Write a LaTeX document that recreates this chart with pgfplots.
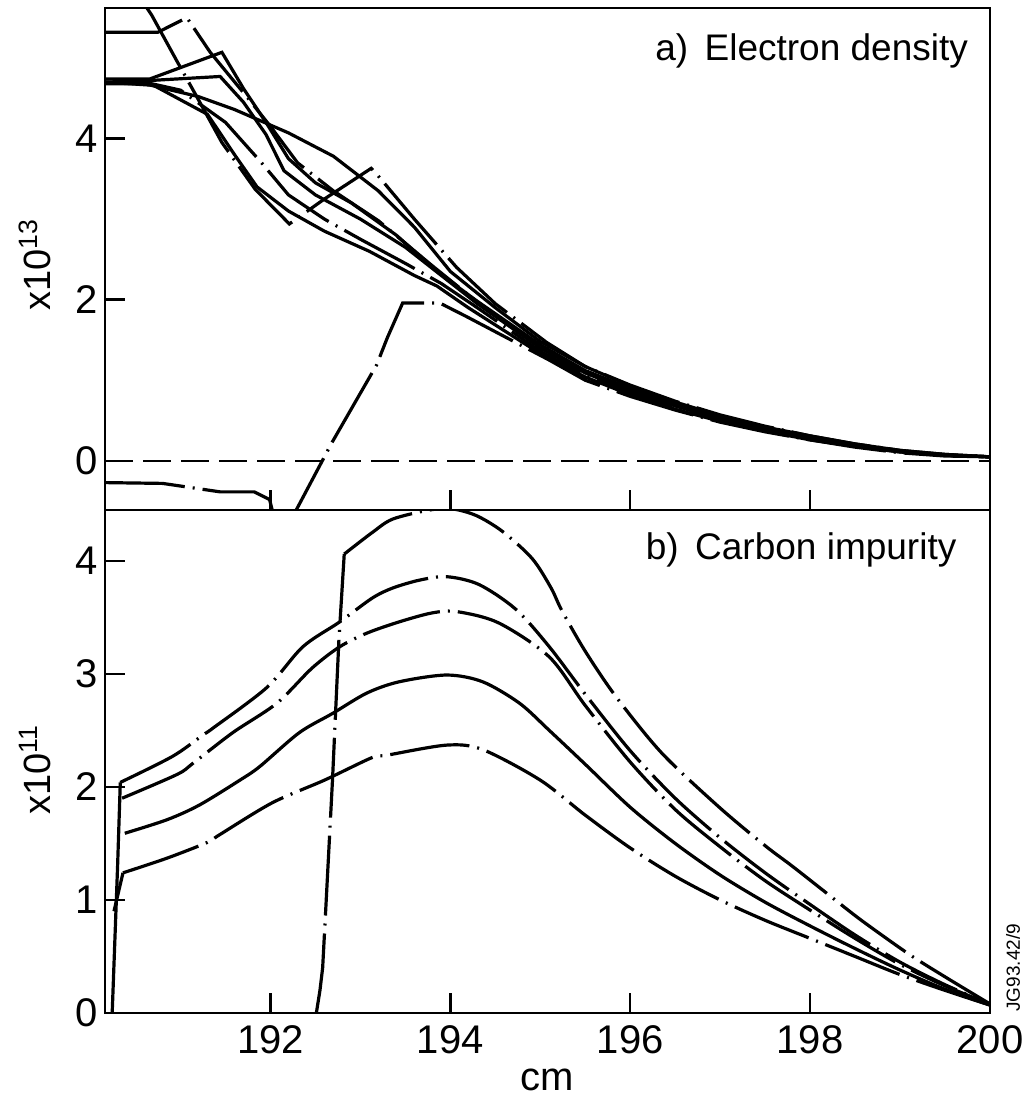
\documentclass[border=0pt]{standalone}
\usepackage{pgfplots}
\pgfplotsset{compat=1.18}
\usepackage{fontspec}
\setmainfont{Liberation Sans}
\begin{document}
\begin{tikzpicture}
\path[use as bounding box] (-52.5pt,-45.5pt) rectangle (461.5pt,506.5pt);
\pgfplotsset{
  panel/.style={
    scale only axis, width=442.5pt,
    xmin=190.16, xmax=200,
    axis line style={line width=1.3pt},
    tick align=inside, xtick pos=bottom, ytick pos=left,
    major tick length=10pt,
    every tick/.style={black, line width=1.2pt},
    xtick={192,194,196,198,200},
    ticklabel style={font=\fontsize{20}{24}\selectfont},
    /pgf/number format/assume math mode=true,
    clip mode=individual,
  },
  dd/.style={black, line width=1.6pt, dash pattern=on 40pt off 4pt on 1pt off 4pt},
  sl/.style={black, line width=1.6pt},
}
% ---------------- bottom panel ----------------
\begin{axis}[panel, at={(0pt,0pt)}, anchor=south west, height=251.5pt,
  ymin=0, ymax=4.45, ytick={0,1,2,3,4},
  xticklabel style={yshift=-3pt},
]
% vertical starts
\addplot[sl] coordinates {(190.24,0) (190.30,1.3) (190.33,2.04)};
\addplot[sl] coordinates {(190.26,0.9) (190.36,1.24)};
% B1
\addplot[dd] coordinates {(192.51,0) (192.55,0.2) (192.58,0.4) (192.61,0.85) (192.69,2.07) (192.76,3.29) (192.82,4.06)};
\addplot[dd, smooth, tension=0.5] coordinates {(192.82,4.06) (193.13,4.25) (193.36,4.37) (193.77,4.45) (194.02,4.46) (194.29,4.40) (194.58,4.26) (194.91,4.02) (195.12,3.76) (195.24,3.56) (195.5,3.2) (195.84,2.8) (196.35,2.3) (196.99,1.82) (197.5,1.48) (197.8,1.3) (198.2,1.05) (198.57,0.82) (199.1,0.52) (199.5,0.32) (200,0.08)};
% B2
\addplot[dd, smooth, tension=0.5] coordinates {(190.33,2.04) (190.91,2.27) (191.25,2.46) (191.36,2.52) (191.96,2.88) (192.36,3.24) (192.77,3.46) (193.13,3.67) (193.36,3.76) (193.66,3.83) (193.96,3.86) (194.32,3.79) (194.73,3.57) (195.1,3.24) (195.5,2.82) (196,2.32) (196.5,1.9) (197,1.55) (197.5,1.24) (198,0.96) (198.5,0.69) (199,0.45) (199.5,0.25) (200,0.08)};
% B3
\addplot[dd, smooth, tension=0.5] coordinates {(190.35,1.90) (190.96,2.11) (191.14,2.21) (191.58,2.48) (192.07,2.74) (192.46,3.05) (192.77,3.24) (193.07,3.36) (193.43,3.46) (193.8,3.54) (194.08,3.55) (194.54,3.45) (195.1,3.15) (195.5,2.72) (196,2.22) (196.5,1.8) (197,1.47) (197.5,1.17) (198,0.91) (198.5,0.66) (199,0.43) (199.5,0.24) (200,0.08)};
% B4
\addplot[sl, smooth, tension=0.5] coordinates {(190.38,1.59) (190.85,1.71) (191.21,1.84) (191.66,2.06) (191.88,2.18) (192.32,2.48) (192.69,2.65) (193.07,2.83) (193.43,2.93) (193.96,2.99) (194.36,2.93) (194.77,2.74) (195.1,2.5) (195.5,2.2) (196,1.82) (196.5,1.5) (197,1.22) (197.5,0.98) (198,0.77) (198.5,0.57) (199,0.38) (199.5,0.21) (200,0.07)};
% B5
\addplot[dd, smooth, tension=0.5] coordinates {(190.36,1.24) (190.85,1.37) (191.3,1.51) (191.44,1.58) (192.02,1.86) (192.6,2.06) (193.13,2.26) (193.29,2.28) (193.96,2.37) (194.36,2.33) (195.0,2.06) (195.5,1.75) (196,1.46) (196.5,1.21) (197,1.0) (197.5,0.82) (198,0.66) (198.5,0.5) (199,0.34) (199.5,0.2) (200,0.07)};
\node[anchor=east, font=\fontsize{18.5}{22}\selectfont] at (axis description cs:0.97,0.92) {b)\, Carbon impurity};
\node[rotate=90, anchor=center, font=\fontsize{9.5}{11}\selectfont] at (axis description cs:1.026,0.09) {JG93.42/9};
\node[anchor=center, font=\fontsize{20}{24}\selectfont] at (axis description cs:0.5,-0.133) {cm};
\node[rotate=90, anchor=center, font=\fontsize{19}{22}\selectfont] at (axis description cs:-0.079,0.483) {x10\textsuperscript{11}};
\end{axis}
% ---------------- top panel ----------------
\begin{axis}[panel, at={(0pt,251.5pt)}, anchor=south west, height=251pt,
  ymin=-0.61, ymax=5.62, ytick={0,2,4}, xticklabels={},
]
\addplot[black, line width=1pt, dash pattern=on 14pt off 5pt] coordinates {(190.16,0) (200,0)};
% T1 dash-dot from 5.32
\addplot[dd] coordinates {(190.16,5.32) (190.75,5.32) (191.07,5.5) (191.33,5.07) (191.75,4.5) (192.0,4.15) (192.3,3.7) (192.7,3.35) (193.2,2.98) (193.8,2.42) (194.3,1.97) (195.0,1.42) (195.5,1.1) (196.0,0.88) (196.5,0.69) (197.0,0.53) (197.5,0.4) (198.0,0.29) (198.5,0.2) (199.0,0.12) (199.5,0.07) (200,0.05)};
% T2 solid peak 5.07
\addplot[sl] coordinates {(190.16,4.74) (190.66,4.74) (191.46,5.07) (191.7,4.62) (191.95,4.2) (192.2,3.75) (192.5,3.45) (192.9,3.2) (193.4,2.8) (193.85,2.35) (194.3,1.98) (195.0,1.44) (195.5,1.12) (196,0.9) (196.5,0.7) (197,0.54) (197.5,0.41) (198,0.3) (198.5,0.2) (199,0.12) (199.5,0.07) (200,0.05)};
% T3 solid
\addplot[sl] coordinates {(190.16,4.70) (190.66,4.72) (191.44,4.77) (191.7,4.45) (191.95,4.05) (192.15,3.6) (192.5,3.3) (193.0,3.0) (193.5,2.65) (193.9,2.3) (194.3,1.95) (195.0,1.40) (195.5,1.09) (196,0.87) (196.5,0.68) (197,0.52) (197.5,0.39) (198,0.28) (198.5,0.19) (199,0.12) (199.5,0.07) (200,0.05)};
% T4 smooth upper
\addplot[sl] coordinates {(190.16,4.68) (190.6,4.68) (191.2,4.52) (191.6,4.36) (192.2,4.07) (192.7,3.78) (193.2,3.35) (193.6,2.9) (194.0,2.35) (194.5,1.9) (195,1.48) (195.5,1.17) (196,0.93) (196.5,0.73) (197,0.56) (197.5,0.42) (198,0.31) (198.5,0.21) (199,0.13) (199.5,0.08) (200,0.05)};
% T5 dash-dot from top with V and bump
\addplot[dd] coordinates {(190.55,5.75) (190.68,5.53) (190.97,4.94) (191.18,4.52) (191.46,3.95) (191.62,3.7) (191.83,3.37) (192.21,2.94) (192.6,3.25) (193.12,3.63) (193.21,3.52) (193.6,3.0) (194.07,2.40) (194.5,1.95) (195.07,1.47) (195.5,1.17) (196,0.94) (196.5,0.74) (197,0.57) (197.5,0.43) (198,0.31) (198.5,0.21) (199,0.13) (199.5,0.08) (200,0.05)};
% T6 dash-dot lower
\addplot[dd] coordinates {(190.16,4.70) (190.6,4.70) (191.0,4.6) (191.5,4.2) (191.9,3.7) (192.2,3.3) (192.6,3.0) (193.0,2.75) (193.5,2.45) (193.9,2.2) (194.3,1.9) (195,1.36) (195.5,1.06) (196,0.84) (196.5,0.66) (197,0.5) (197.5,0.38) (198,0.27) (198.5,0.18) (199,0.11) (199.5,0.07) (200,0.05)};
% T8 solid lower
\addplot[sl] coordinates {(190.16,4.70) (190.7,4.66) (191.3,4.3) (191.6,3.8) (191.85,3.4) (192.2,3.1) (192.6,2.85) (193.1,2.6) (193.6,2.3) (193.85,2.17) (194.2,1.9) (195,1.33) (195.5,1.04) (196,0.82) (196.5,0.64) (197,0.49) (197.5,0.37) (198,0.26) (198.5,0.18) (199,0.11) (199.5,0.07) (200,0.05)};
% D4 dash-dot negative then rising
\addplot[dd] coordinates {(190.16,-0.27) (190.8,-0.28) (191.44,-0.385) (191.82,-0.385) (191.99,-0.48) (192.05,-0.75) (192.22,-0.75) (192.68,0.22) (193.18,1.19) (193.3,1.53) (193.47,1.96) (193.88,1.96) (194.18,1.79) (195.1,1.25) (195.5,1.0) (196,0.8) (196.5,0.63) (197,0.48) (197.5,0.36) (198,0.26) (198.5,0.17) (199,0.1) (199.5,0.06) (200,0.05)};
\node[anchor=east, font=\fontsize{18.5}{22}\selectfont] at (axis description cs:0.983,0.915) {a)\, Electron density};
\node[rotate=90, anchor=center, font=\fontsize{19}{22}\selectfont] at (axis description cs:-0.079,0.488) {x10\textsuperscript{13}};
\end{axis}
\end{tikzpicture}
\end{document}
